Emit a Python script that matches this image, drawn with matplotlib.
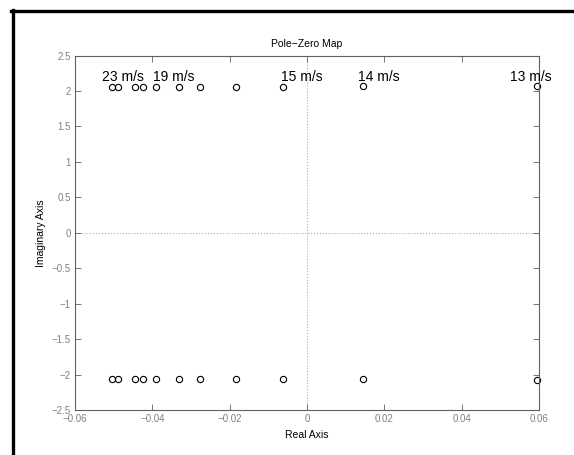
import matplotlib
matplotlib.use("Agg")
import matplotlib.pyplot as plt
from matplotlib.lines import Line2D

plt.rcParams['font.family'] = ['Liberation Sans', 'DejaVu Sans']

# zeros of the system at each wind speed
zeroReal = [-0.0505, -0.0488, -0.0445, -0.0424, -0.0391, -0.0331, -0.0276,
            -0.0183, -0.0062, 0.0144, 0.0595]
zeroImagUpper = [2.055, 2.055, 2.055, 2.055, 2.055, 2.055, 2.055,
                 2.055, 2.058, 2.065, 2.075]
zeroImagLower = [-2.058, -2.058, -2.058, -2.058, -2.058, -2.058, -2.058,
                 -2.058, -2.06, -2.068, -2.08]

speedLabels = ['23 m/s', '19 m/s', '15 m/s', '14 m/s', '13 m/s']
labelX = [-0.0531, -0.0399, -0.0068, 0.0133, 0.0526]
labelY = [2.19, 2.19, 2.19, 2.19, 2.19]

xTicks = [-0.06, -0.04, -0.02, 0, 0.02, 0.04, 0.06]
xTickLabels = ['\u22120.06', '\u22120.04', '\u22120.02', '0', '0.02', '0.04', '0.06']
yTicks = [-2.5, -2, -1.5, -1, -0.5, 0, 0.5, 1, 1.5, 2, 2.5]
yTickLabels = ['\u22122.5', '\u22122', '\u22121.5', '\u22121', '\u22120.5', '0',
               '0.5', '1', '1.5', '2', '2.5']

fig = plt.figure(figsize=(5.74, 4.55), dpi=100)
ax = fig.add_axes([0.1307, 0.0989, 0.8083, 0.7791])

ax.axhline(0, color='#b0b0b0', linestyle=':', linewidth=0.8, zorder=0)
ax.axvline(0, color='#b0b0b0', linestyle=':', linewidth=0.8, zorder=0)

ax.plot(zeroReal, zeroImagUpper, 'o', markersize=4.5, markerfacecolor='none',
        markeredgecolor='black', markeredgewidth=0.8, clip_on=False)
ax.plot(zeroReal, zeroImagLower, 'o', markersize=4.5, markerfacecolor='none',
        markeredgecolor='black', markeredgewidth=0.8, clip_on=False)

for lbl, x, y in zip(speedLabels, labelX, labelY):
    ax.text(x, y, lbl, fontsize=10, ha='left', va='center', clip_on=False)

ax.set_xlim(-0.06, 0.06)
ax.set_ylim(-2.5, 2.5)
ax.set_xticks(xTicks)
ax.set_xticklabels(xTickLabels)
ax.set_yticks(yTicks)
ax.set_yticklabels(yTickLabels)
ax.tick_params(direction='in', top=True, right=True, length=4, width=0.6,
               color='#606060', labelcolor='#808080', labelsize=7, pad=3)
for sp in ax.spines.values():
    sp.set_color('#606060')
    sp.set_linewidth(0.8)

ax.set_title('Pole\u2212Zero Map', fontsize=7.5, pad=6)
ax.set_xlabel('Real Axis', fontsize=7.5, labelpad=4)
ax.set_ylabel('Imaginary Axis', fontsize=7.5, labelpad=4)

# frame of the original screenshot (top and left edges)
fig.add_artist(Line2D([11 / 574, 1.0], [1 - 11 / 455, 1 - 11 / 455],
                      transform=fig.transFigure, color='black', linewidth=2.4))
fig.add_artist(Line2D([12.5 / 574, 12.5 / 574], [0, 1 - 10 / 455],
                      transform=fig.transFigure, color='black', linewidth=2.4))

fig.savefig('out.png', dpi=100)
